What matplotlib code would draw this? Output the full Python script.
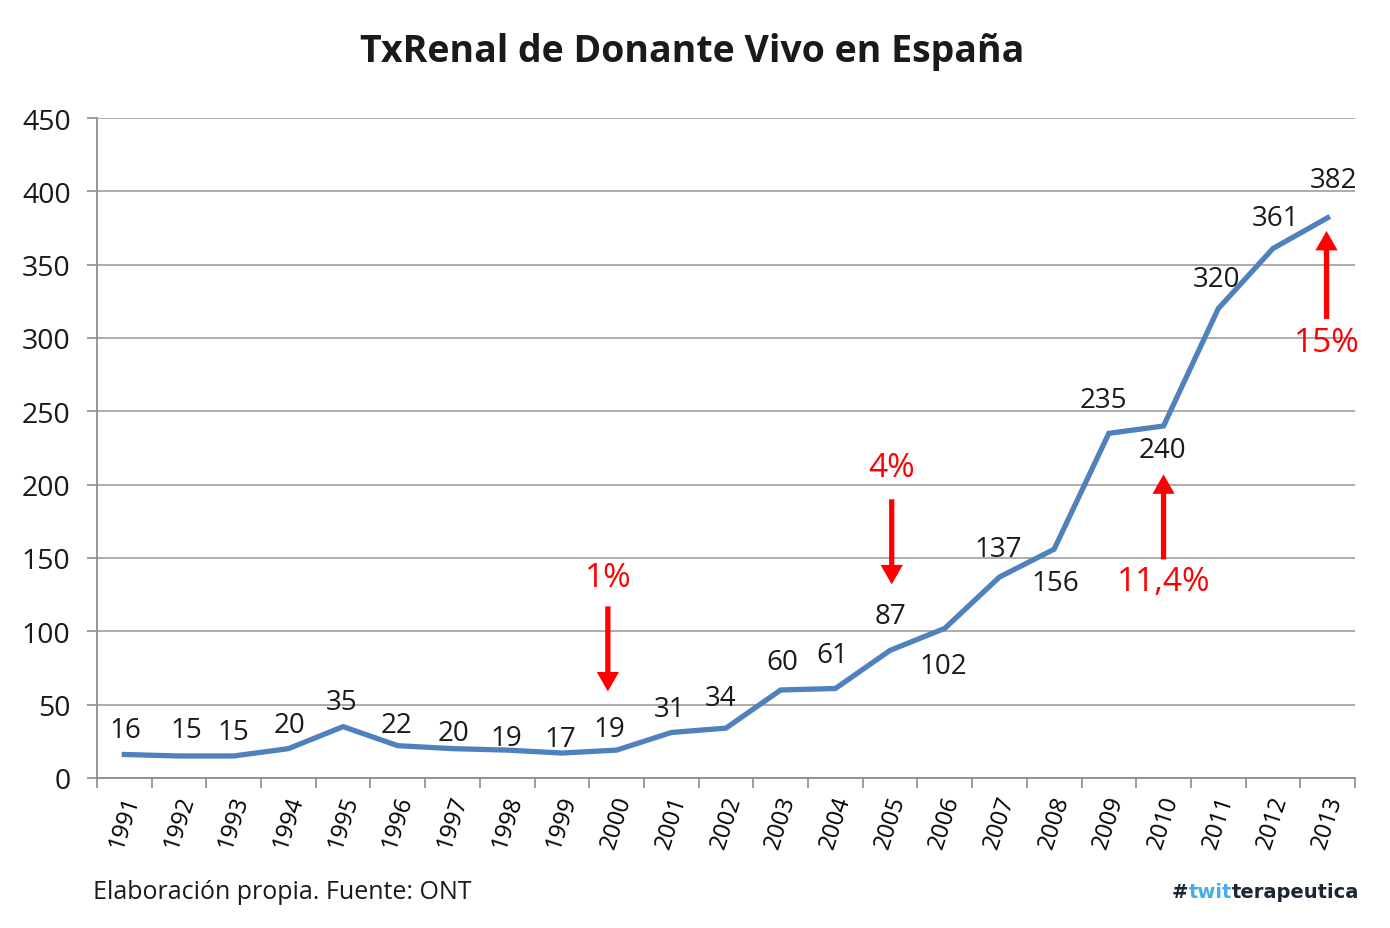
import matplotlib
matplotlib.use('Agg')
import matplotlib.pyplot as plt
import numpy as np

plt.rcParams['font.family'] = ['Open Sans', 'DejaVu Sans']

years = ['1991', '1992', '1993', '1994', '1995', '1996', '1997', '1998', '1999', '2000', '2001', '2002',
         '2003', '2004', '2005', '2006', '2007', '2008', '2009', '2010', '2011', '2012', '2013']
trasplantes = [16, 15, 15, 20, 35, 22, 20, 19, 17, 19, 31, 34, 60, 61, 87, 102, 137, 156, 235, 240, 320, 361, 382]

# offsets of the value labels (points), above or below the line
label_dx = [1, 5, 0, 1, -1, -1, 1, -1, -1, -5, -1, -4, 1, -2, 0, -1, -1, 1, -4, -1, -1, 2, 4]
label_dy = [18, 19, 17, 17, 18, 15, 11, 9, 10, 15, 17, 22, 20, 24, 25, -27, 20, -24, 24, -17, 21, 22, 27]

# red arrows: (text, x index, text y, tail y, tip y)
flechas = [('1%', 8.84, 137, 117, 59),
           ('4%', 14.03, 212, 190, 132),
           ('11,4%', 19.0, 134, 149, 207),
           ('15%', 21.98, 297, 313, 373)]

fig = plt.figure(figsize=(13.9, 9.29), dpi=100)
ax = fig.add_axes([0.0698, 0.1615, 0.905, 0.7104])

x = np.arange(len(years))
ax.plot(x, trasplantes, color='#4F81BD', linewidth=3.8, solid_joinstyle='miter')

for i, v in enumerate(trasplantes):
    ax.annotate(str(v), (i, v), xytext=(label_dx[i], label_dy[i]), textcoords='offset points',
                ha='center', va='center', fontsize=20, color='#1a1a1a')

for txt, xi, ty, y0, y1 in flechas:
    ax.annotate('', xy=(xi, y1), xytext=(xi, y0),
                arrowprops=dict(arrowstyle='simple,head_width=1.6,head_length=1.4,tail_width=0.38',
                                color='#FF0000', lw=0, shrinkA=0, shrinkB=0))
    ax.text(xi, ty, txt, ha='center', va='center', fontsize=24, color='#FF0000')

ax.set_xlim(-0.5, len(years) - 0.5)
ax.set_ylim(0, 450)
ax.set_yticks(range(0, 451, 50))
ax.set_xticks(np.arange(len(years) + 1) - 0.5, minor=False)
ax.set_xticklabels([])
ax.set_xticks(x, minor=True)
ax.set_xticklabels(years, minor=True, rotation=72, fontsize=17, ha='center', va='top')
ax.tick_params(axis='x', which='minor', length=0, pad=10)
ax.tick_params(axis='x', which='major', length=7, width=1.2, color='#8c8c8c')
ax.tick_params(axis='y', length=7, width=1.2, color='#8c8c8c', labelsize=20.5, pad=12)
for lab in ax.get_yticklabels():
    lab.set_color('#1a1a1a')

ax.grid(axis='y', color='#a6a6a6', linewidth=1.3)
ax.set_axisbelow(True)
for s in ['top', 'right']:
    ax.spines[s].set_visible(False)
ax.spines['left'].set_color('#8c8c8c')
ax.spines['bottom'].set_color('#8c8c8c')
ax.spines['left'].set_linewidth(1.3)
ax.spines['bottom'].set_linewidth(1.3)

fig.text(0.498, 0.944, 'TxRenal de Donante Vivo en España', ha='center', va='center',
         fontsize=27, fontweight='bold', color='#1a1a1a')
fig.text(0.067, 0.039, 'Elaboración propia. Fuente: ONT', ha='left', va='center',
         fontsize=18, color='#1a1a1a')

# logo
t1 = fig.text(0.843, 0.039, '#', ha='left', va='center', fontsize=14, fontweight='bold',
              color='#1c2536', family='DejaVu Sans')
t2 = ax.annotate('twit', xy=(1, 0.5), xycoords=t1, ha='left', va='center', fontsize=14,
                 fontweight='bold', color='#45aee8', family='DejaVu Sans', annotation_clip=False)
ax.annotate('terapeutica', xy=(1, 0.5), xycoords=t2, ha='left', va='center', fontsize=14,
            fontweight='bold', color='#1c2536', family='DejaVu Sans', annotation_clip=False)

plt.savefig('out.png', dpi=100)
plt.close()
